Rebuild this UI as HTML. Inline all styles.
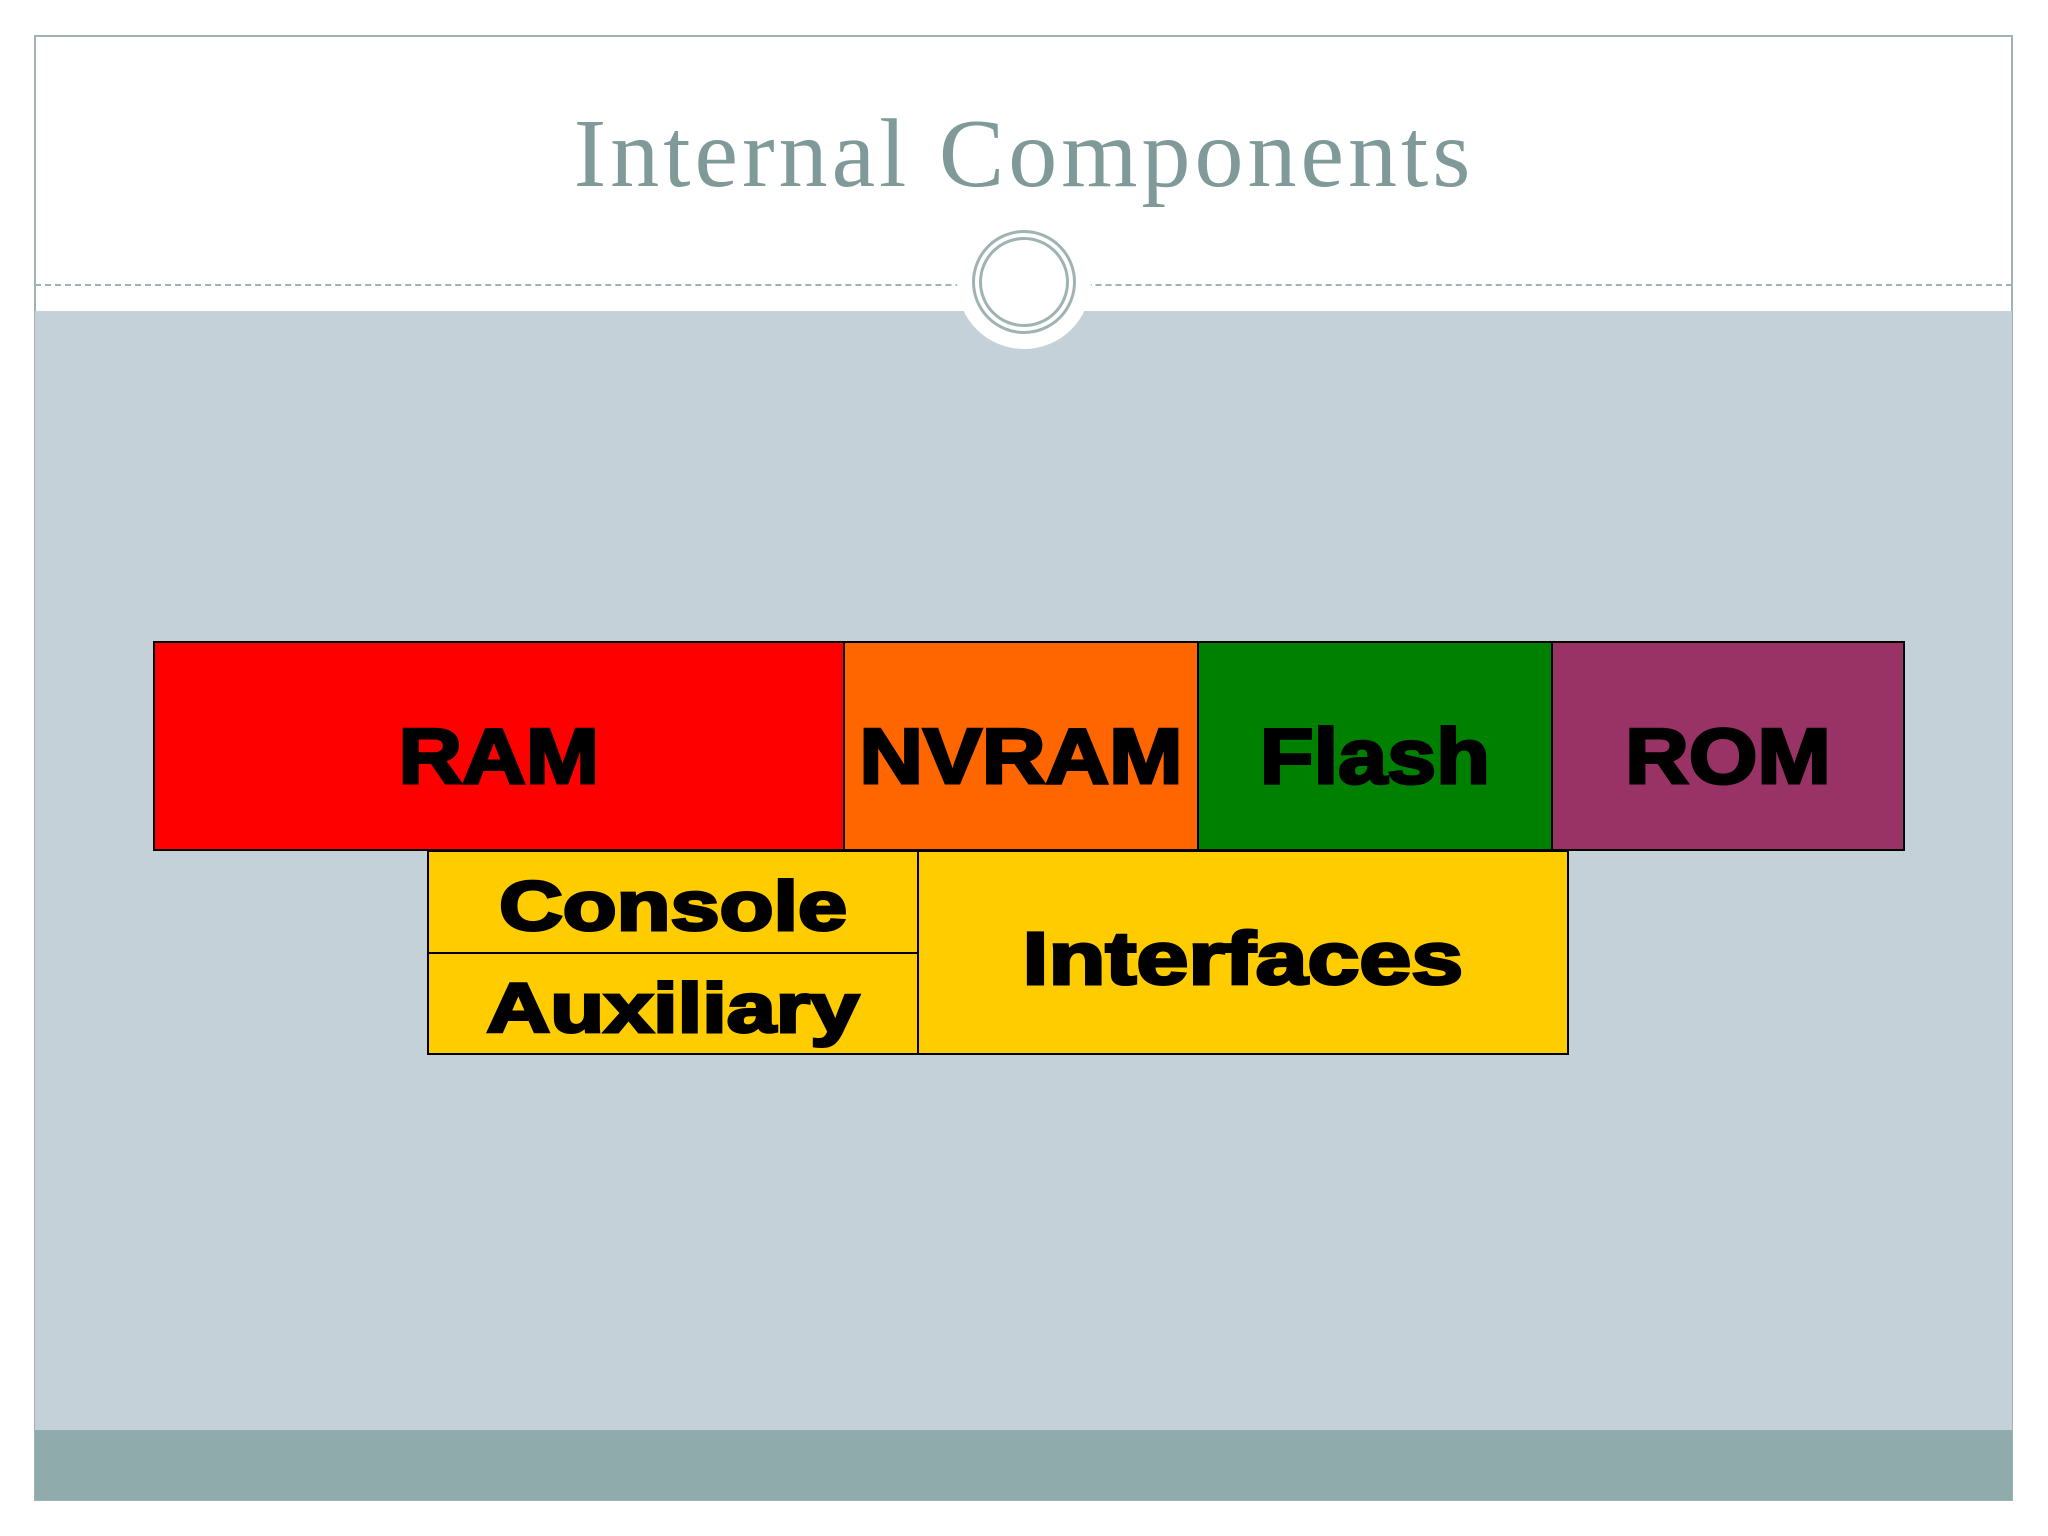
<!DOCTYPE html>
<html><head><meta charset="utf-8"><style>
body{margin:0;width:2048px;height:1536px;background:#fff;position:relative;overflow:hidden;font-family:"Liberation Sans",sans-serif}
.a{position:absolute;box-sizing:border-box}
.b{border:2px solid #000;display:flex;align-items:center;justify-content:center;font-weight:bold;color:#000;-webkit-text-stroke:3px #000;padding-top:20px}
.b span{display:inline-block;transform:scaleX(1.13)}
.c span{transform:scaleX(1.26)}
</style></head><body>
<div class="a" style="left:34px;top:35px;width:1979px;height:1466px;border:2px solid #9fb3b3;background:#fff"></div>
<div class="a" style="left:35px;top:311px;width:1977px;height:1120px;background:#c5d1d8"></div>
<div class="a" style="left:35px;top:1430px;width:1977px;height:70px;background:#8fabab"></div>
<div class="a" style="left:35px;top:284px;width:1977px;border-top:2px dashed #9fb3b3"></div>
<div class="a" style="left:957px;top:215px;width:134px;height:134px;border-radius:50%;background:#fff"></div>
<div class="a" style="left:972px;top:230px;width:104px;height:104px;border-radius:50%;border:3px solid #9fb3b3;background:#fff"></div>
<div class="a" style="left:979px;top:237px;width:90px;height:90px;border-radius:50%;border:3px solid #9fb3b3"></div>
<div class="a" style="left:0;top:98px;width:2048px;text-align:center;font-family:'Liberation Serif',serif;font-size:98px;letter-spacing:4px;color:#7f9a98">Internal Components</div>
<div class="a b" style="left:153px;top:641px;width:692px;height:210px;background:#ff0000;font-size:78px"><span>RAM</span></div>
<div class="a b" style="left:843px;top:641px;width:356px;height:210px;background:#ff6600;font-size:78px"><span>NVRAM</span></div>
<div class="a b" style="left:1197px;top:641px;width:356px;height:210px;background:#008000;font-size:78px"><span>Flash</span></div>
<div class="a b" style="left:1551px;top:641px;width:354px;height:210px;background:#993366;font-size:78px"><span>ROM</span></div>
<div class="a b c" style="left:427px;top:850px;width:492px;height:104px;background:#ffcc00;font-size:70px;padding-top:8px"><span>Console</span></div>
<div class="a b c" style="left:427px;top:952px;width:492px;height:103px;background:#ffcc00;font-size:70px;padding-top:8px"><span>Auxiliary</span></div>
<div class="a b c" style="left:917px;top:850px;width:652px;height:205px;background:#ffcc00;font-size:74px;padding-top:12px"><span>Interfaces</span></div>
</body></html>
